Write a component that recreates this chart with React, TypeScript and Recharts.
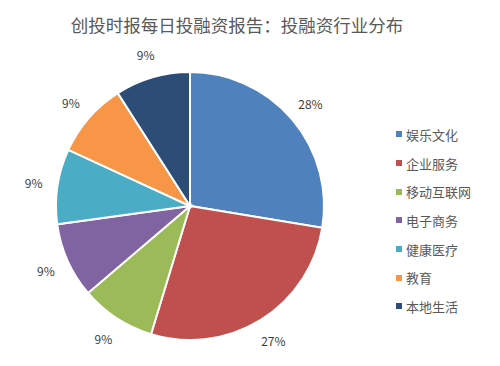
import { PieChart, Pie, Cell, Legend } from 'recharts'

const categories = ['娱乐文化', '企业服务', '移动互联网', '电子商务', '健康医疗', '教育', '本地生活']
const shares = [27.6, 27.1, 9.06, 9.06, 9.06, 9.06, 9.06]
const colors = ['#4F81BD', '#C0504D', '#9BBB59', '#8064A2', '#4BACC6', '#F79646', '#2C4D75']

const title = '创投时报每日投融资报告：投融资行业分布'

const data = categories.map((name, i) => ({ name, value: shares[i] }))

const font = '"Noto Sans CJK SC", "Noto Sans", sans-serif'
const RAD = Math.PI / 180

const renderLabel = (props: any) => {
  const { cx, cy, midAngle, outerRadius, percent } = props
  const r = outerRadius + 24
  const x = cx + r * Math.cos(-midAngle * RAD)
  const y = cy + r * Math.sin(-midAngle * RAD)
  return (
    <text
      x={x}
      y={y}
      fill="#404040"
      fontSize={12}
      fontFamily={font}
      textAnchor="middle"
      dominantBaseline="central"
    >
      {`${Math.round(percent * 100)}%`}
    </text>
  )
}

const renderLegend = () => (
  <div style={{ fontFamily: font }}>
    {data.map((d, i) => (
      <div
        key={d.name}
        style={{ display: 'flex', alignItems: 'center', height: 28.7, fontSize: 13, color: '#595959' }}
      >
        <span style={{ width: 6, height: 6, background: colors[i], marginRight: 4, display: 'inline-block' }} />
        <span>{d.name}</span>
      </div>
    ))}
  </div>
)

export default function App() {
  return (
    <div style={{ position: 'fixed', left: 0, top: 0, width: 500, height: 366, background: '#fff' }}>
      <div
        style={{
          position: 'absolute',
          left: 0,
          top: 12,
          width: 474,
          textAlign: 'center',
          fontFamily: font,
          fontSize: 17.5,
          color: '#595959',
          lineHeight: '26px',
        }}
      >
        {title}
      </div>
      <PieChart width={500} height={366} margin={{ top: 0, right: 0, bottom: 0, left: 0 }}>
        <Pie
          data={data}
          dataKey="value"
          nameKey="name"
          cx={190}
          cy={206}
          outerRadius={134}
          startAngle={90}
          endAngle={-270}
          stroke="#fff"
          strokeWidth={2}
          label={renderLabel}
          labelLine={false}
          isAnimationActive={false}
        >
          {data.map((d, i) => (
            <Cell key={d.name} fill={colors[i]} />
          ))}
        </Pie>
        <Legend
          content={renderLegend}
          wrapperStyle={{ left: 396, top: 120, width: 100 }}
          layout="vertical"
        />
      </PieChart>
    </div>
  )
}
